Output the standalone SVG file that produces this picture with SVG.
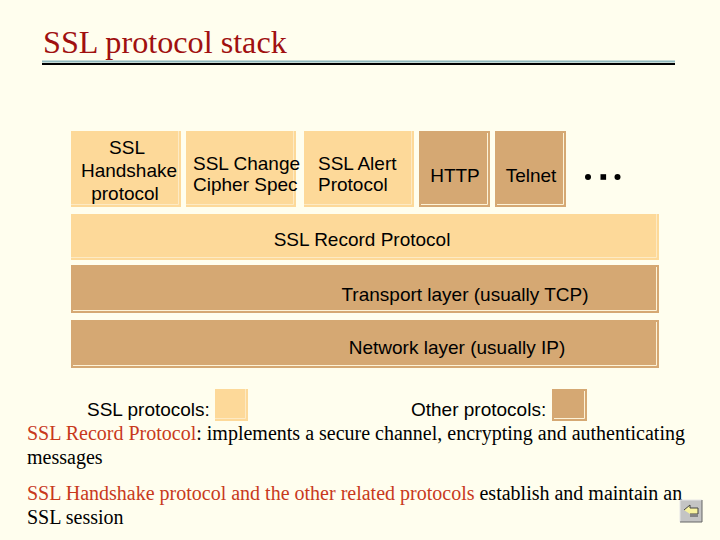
<svg xmlns="http://www.w3.org/2000/svg" width="720" height="540" viewBox="0 0 720 540">
<style>
.s{font-family:"Liberation Sans",Arial,sans-serif;font-size:19px;fill:#000}
.b{font-family:"Liberation Serif","Times New Roman",serif;font-size:20px;fill:#000}
.r{fill:#c8391c}
.ssl{fill:#fdd999}.ssle{fill:none;stroke:#fdeac4;stroke-width:1}
.oth{fill:#d5a873}.othe{fill:none;stroke:#fdf3d8;stroke-width:1}
</style>
<rect width="720" height="540" fill="#fffeee"/>
<g id="title">
<text x="43" y="53" font-family="'Liberation Serif','Times New Roman',serif" font-size="32.2" fill="#a01010">SSL protocol stack</text>
<rect x="42" y="60.500" width="633" height="2" fill="#8fb8bd"/>
<rect x="42" y="63" width="633" height="2" fill="#000"/>
</g>
<g id="handshake"><rect class="ssl" x="71" y="131" width="110" height="76"/><path class="ssle" d="M178.500 131V204.500H71"/>
<text class="s" x="127" y="154" text-anchor="middle">SSL</text><text class="s" x="129" y="177" text-anchor="middle">Handshake</text><text class="s" x="125" y="200" text-anchor="middle">protocol</text></g>
<g id="change-cipher"><rect class="ssl" x="186" y="131" width="110" height="76"/><path class="ssle" d="M293.500 131V204.500H186"/>
<text class="s" x="193" y="170">SSL Change</text><text class="s" x="193" y="191">Cipher Spec</text></g>
<g id="alert"><rect class="ssl" x="304" y="131" width="110" height="76"/><path class="ssle" d="M411.500 131V204.500H304"/>
<text class="s" x="318" y="170">SSL Alert</text><text class="s" x="318" y="191">Protocol</text></g>
<g id="http"><rect class="oth" x="419" y="131" width="71" height="76"/><path class="othe" d="M487.500 133V204.500H421"/>
<text class="s" x="455" y="182" text-anchor="middle">HTTP</text></g>
<g id="telnet"><rect class="oth" x="495" y="131" width="71" height="76"/><path class="othe" d="M563.500 133V204.500H497"/>
<text class="s" x="531" y="182" text-anchor="middle">Telnet</text></g>
<g id="dots" fill="#000"><circle cx="588" cy="177" r="3"/><rect x="600.500" y="174.200" width="5.600" height="5.600"/><circle cx="617.500" cy="177" r="3"/></g>
<g id="record"><rect class="ssl" x="71" y="214" width="588" height="46"/><path class="ssle" d="M656.500 214V257.500H71"/>
<text class="s" x="362" y="246" text-anchor="middle">SSL Record Protocol</text></g>
<g id="transport"><rect class="oth" x="71" y="265" width="588" height="48"/><path class="othe" d="M656.500 267V310.500H73"/>
<text class="s" x="465" y="301" text-anchor="middle">Transport layer (usually TCP)</text></g>
<g id="network"><rect class="oth" x="71" y="320" width="588" height="48"/><path class="othe" d="M656.500 322V365.500H73"/>
<text class="s" x="457" y="354" text-anchor="middle">Network layer (usually IP)</text></g>
<g id="legend-ssl"><text class="s" x="87" y="416">SSL protocols:</text><rect class="ssl" x="215" y="389" width="33" height="32"/><path class="ssle" d="M245.500 389V418.500H215"/></g>
<g id="legend-other"><text class="s" x="411" y="416">Other protocols:</text><rect class="oth" x="552" y="389" width="35" height="32"/><path class="othe" d="M584.500 391V418.500H554"/></g>
<g id="body">
<text class="b" x="27" y="440"><tspan class="r">SSL Record Protocol</tspan>: implements a secure channel, encrypting and authenticating</text>
<text class="b" x="27" y="464">messages</text>
<text class="b" x="27" y="500"><tspan class="r">SSL Handshake protocol and the other related protocols</tspan> establish and maintain an</text>
<text class="b" x="27" y="524">SSL session</text>
</g>
<g id="back-button">
<rect x="680" y="500" width="22" height="22" fill="#c4c4c4"/>
<path d="M680 522V500H702" fill="none" stroke="#e6e6e6"/>
<path d="M702 500V522H680" fill="none" stroke="#666"/>
<path d="M684 510L690 505V508H698V514H690" fill="#f8f3a0" stroke="#444" stroke-width="1"/>
<path d="M690 516H698" fill="none" stroke="#444"/>
</g>
</svg>
